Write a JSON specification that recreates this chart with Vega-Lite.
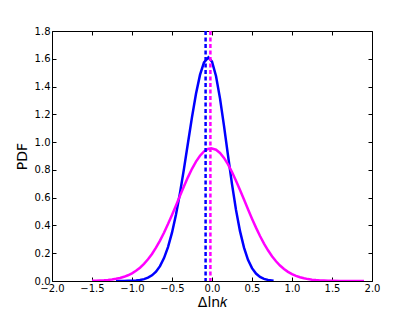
{
  "$schema": "https://vega.github.io/schema/vega-lite/v6.json",
  "width": 320,
  "height": 250,
  "autosize": {"type": "none"},
  "padding": {"left": 52, "top": 31, "right": 43, "bottom": 31},
  "background": "white",
  "config": {
    "view": {"stroke": "black", "strokeWidth": 1},
    "font": "DejaVu Sans",
    "axis": {
      "grid": false,
      "domain": false,
      "ticks": true,
      "tickColor": "black",
      "tickWidth": 1,
      "tickSize": -4,
      "labelPadding": 6,
      "labelFont": "DejaVu Sans",
      "labelFontSize": 10,
      "labelColor": "black",
      "labelFlush": false,
      "labelOverlap": false,
      "titleFont": "DejaVu Sans",
      "titleFontWeight": "normal",
      "titleFontSize": 14,
      "titleColor": "black"
    }
  },
  "datasets": {
    "curves": [
      {"x": -1.2, "y": 0.0001, "series": "a"},
      {"x": -1.15, "y": 0.0003, "series": "a"},
      {"x": -1.1, "y": 0.0005, "series": "a"},
      {"x": -1.05, "y": 0.001, "series": "a"},
      {"x": -1.0, "y": 0.002, "series": "a"},
      {"x": -0.95, "y": 0.0038, "series": "a"},
      {"x": -0.9, "y": 0.0072, "series": "a"},
      {"x": -0.85, "y": 0.0134, "series": "a"},
      {"x": -0.8, "y": 0.0238, "series": "a"},
      {"x": -0.75, "y": 0.0408, "series": "a"},
      {"x": -0.7, "y": 0.0674, "series": "a"},
      {"x": -0.65, "y": 0.107, "series": "a"},
      {"x": -0.6, "y": 0.165, "series": "a"},
      {"x": -0.55, "y": 0.244, "series": "a"},
      {"x": -0.5, "y": 0.348, "series": "a"},
      {"x": -0.45, "y": 0.479, "series": "a"},
      {"x": -0.4, "y": 0.634, "series": "a"},
      {"x": -0.35, "y": 0.809, "series": "a"},
      {"x": -0.3, "y": 0.995, "series": "a"},
      {"x": -0.25, "y": 1.18, "series": "a"},
      {"x": -0.2, "y": 1.348, "series": "a"},
      {"x": -0.15, "y": 1.484, "series": "a"},
      {"x": -0.1, "y": 1.574, "series": "a"},
      {"x": -0.045, "y": 1.61, "series": "a"},
      {"x": 0.0, "y": 1.579, "series": "a"},
      {"x": 0.05, "y": 1.476, "series": "a"},
      {"x": 0.1, "y": 1.315, "series": "a"},
      {"x": 0.15, "y": 1.117, "series": "a"},
      {"x": 0.2, "y": 0.904, "series": "a"},
      {"x": 0.25, "y": 0.697, "series": "a"},
      {"x": 0.3, "y": 0.512, "series": "a"},
      {"x": 0.35, "y": 0.359, "series": "a"},
      {"x": 0.4, "y": 0.24, "series": "a"},
      {"x": 0.45, "y": 0.152, "series": "a"},
      {"x": 0.5, "y": 0.0925, "series": "a"},
      {"x": 0.55, "y": 0.0535, "series": "a"},
      {"x": 0.6, "y": 0.0295, "series": "a"},
      {"x": 0.65, "y": 0.0155, "series": "a"},
      {"x": 0.7, "y": 0.0077, "series": "a"},
      {"x": 0.77, "y": 0.0025, "series": "a"},
      {"x": -1.5, "y": 0.0015, "series": "b"},
      {"x": -1.45, "y": 0.0023, "series": "b"},
      {"x": -1.4, "y": 0.0035, "series": "b"},
      {"x": -1.35, "y": 0.0052, "series": "b"},
      {"x": -1.3, "y": 0.0076, "series": "b"},
      {"x": -1.25, "y": 0.011, "series": "b"},
      {"x": -1.2, "y": 0.0157, "series": "b"},
      {"x": -1.15, "y": 0.022, "series": "b"},
      {"x": -1.1, "y": 0.0303, "series": "b"},
      {"x": -1.05, "y": 0.0414, "series": "b"},
      {"x": -1.0, "y": 0.0555, "series": "b"},
      {"x": -0.95, "y": 0.0734, "series": "b"},
      {"x": -0.9, "y": 0.0958, "series": "b"},
      {"x": -0.85, "y": 0.1231, "series": "b"},
      {"x": -0.8, "y": 0.156, "series": "b"},
      {"x": -0.75, "y": 0.1948, "series": "b"},
      {"x": -0.7, "y": 0.2397, "series": "b"},
      {"x": -0.65, "y": 0.2908, "series": "b"},
      {"x": -0.6, "y": 0.3476, "series": "b"},
      {"x": -0.55, "y": 0.4096, "series": "b"},
      {"x": -0.5, "y": 0.4757, "series": "b"},
      {"x": -0.45, "y": 0.5444, "series": "b"},
      {"x": -0.4, "y": 0.6141, "series": "b"},
      {"x": -0.35, "y": 0.6827, "series": "b"},
      {"x": -0.3, "y": 0.7481, "series": "b"},
      {"x": -0.25, "y": 0.808, "series": "b"},
      {"x": -0.2, "y": 0.86, "series": "b"},
      {"x": -0.15, "y": 0.9022, "series": "b"},
      {"x": -0.1, "y": 0.9328, "series": "b"},
      {"x": -0.05, "y": 0.9506, "series": "b"},
      {"x": -0.01, "y": 0.955, "series": "b"},
      {"x": 0.05, "y": 0.9451, "series": "b"},
      {"x": 0.1, "y": 0.922, "series": "b"},
      {"x": 0.15, "y": 0.8866, "series": "b"},
      {"x": 0.2, "y": 0.8402, "series": "b"},
      {"x": 0.25, "y": 0.7848, "series": "b"},
      {"x": 0.3, "y": 0.7225, "series": "b"},
      {"x": 0.35, "y": 0.6555, "series": "b"},
      {"x": 0.4, "y": 0.5862, "series": "b"},
      {"x": 0.45, "y": 0.5167, "series": "b"},
      {"x": 0.5, "y": 0.4488, "series": "b"},
      {"x": 0.55, "y": 0.3843, "series": "b"},
      {"x": 0.6, "y": 0.3242, "series": "b"},
      {"x": 0.65, "y": 0.2697, "series": "b"},
      {"x": 0.7, "y": 0.221, "series": "b"},
      {"x": 0.75, "y": 0.1785, "series": "b"},
      {"x": 0.8, "y": 0.1422, "series": "b"},
      {"x": 0.85, "y": 0.1115, "series": "b"},
      {"x": 0.9, "y": 0.0863, "series": "b"},
      {"x": 0.95, "y": 0.0658, "series": "b"},
      {"x": 1.0, "y": 0.0494, "series": "b"},
      {"x": 1.05, "y": 0.0366, "series": "b"},
      {"x": 1.1, "y": 0.0267, "series": "b"},
      {"x": 1.15, "y": 0.0192, "series": "b"},
      {"x": 1.2, "y": 0.0136, "series": "b"},
      {"x": 1.25, "y": 0.0095, "series": "b"},
      {"x": 1.3, "y": 0.0066, "series": "b"},
      {"x": 1.35, "y": 0.0044, "series": "b"},
      {"x": 1.4, "y": 0.003, "series": "b"},
      {"x": 1.45, "y": 0.002, "series": "b"},
      {"x": 1.5, "y": 0.0013, "series": "b"},
      {"x": 1.6, "y": 0.0005, "series": "b"},
      {"x": 1.7, "y": 0.0002, "series": "b"},
      {"x": 1.8, "y": 0.0001, "series": "b"},
      {"x": 1.9, "y": 0.0, "series": "b"}
    ],
    "means": [
      {"x": -0.08, "series": "a"},
      {"x": -0.02, "series": "b"}
    ]
  },
  "resolve": {"axis": {"x": "independent", "y": "independent"}},
  "layer": [
    {
      "data": {"name": "curves"},
      "mark": {"type": "line", "strokeWidth": 2.5, "clip": true},
      "encoding": {
        "x": {
          "field": "x", "type": "quantitative",
          "scale": {"domain": [-2, 2], "nice": false, "zero": false},
          "axis": {"orient": "bottom", "values": [-2, -1.5, -1, -0.5, 0, 0.5, 1, 1.5, 2], "format": ".1f", "title": "Δln𝑘", "titleY": 25.5, "titleBaseline": "alphabetic"}
        },
        "y": {
          "field": "y", "type": "quantitative",
          "scale": {"domain": [0, 1.8], "nice": false},
          "axis": {"orient": "left", "values": [0, 0.2, 0.4, 0.6, 0.8, 1.0, 1.2, 1.4, 1.6, 1.8], "format": ".1f", "title": "PDF", "titleX": -25.5, "titleY": 125, "titleBaseline": "alphabetic", "titleAlign": "center", "titleAngle": -90}
        },
        "color": {"field": "series", "type": "nominal", "scale": {"domain": ["a", "b"], "range": ["#0000ff", "#ff00ff"]}, "legend": null}
      }
    },
    {
      "data": {"name": "means"},
      "mark": {"type": "rule", "strokeWidth": 2.5, "strokeDash": [4, 2.5]},
      "encoding": {
        "x": {
          "field": "x", "type": "quantitative",
          "scale": {"domain": [-2, 2], "nice": false, "zero": false},
          "axis": {"orient": "top", "values": [-2, -1.5, -1, -0.5, 0, 0.5, 1, 1.5, 2], "labels": false, "title": null}
        },
        "color": {"field": "series", "type": "nominal", "scale": {"domain": ["a", "b"], "range": ["#0000ff", "#ff00ff"]}, "legend": null}
      }
    },
    {
      "data": {"name": "curves"},
      "mark": {"type": "point", "opacity": 0},
      "encoding": {
        "x": {"field": "x", "type": "quantitative", "axis": null},
        "y": {
          "field": "y", "type": "quantitative",
          "scale": {"domain": [0, 1.8], "nice": false},
          "axis": {"orient": "right", "values": [0, 0.2, 0.4, 0.6, 0.8, 1.0, 1.2, 1.4, 1.6, 1.8], "labels": false, "title": null}
        }
      }
    }
  ]
}
